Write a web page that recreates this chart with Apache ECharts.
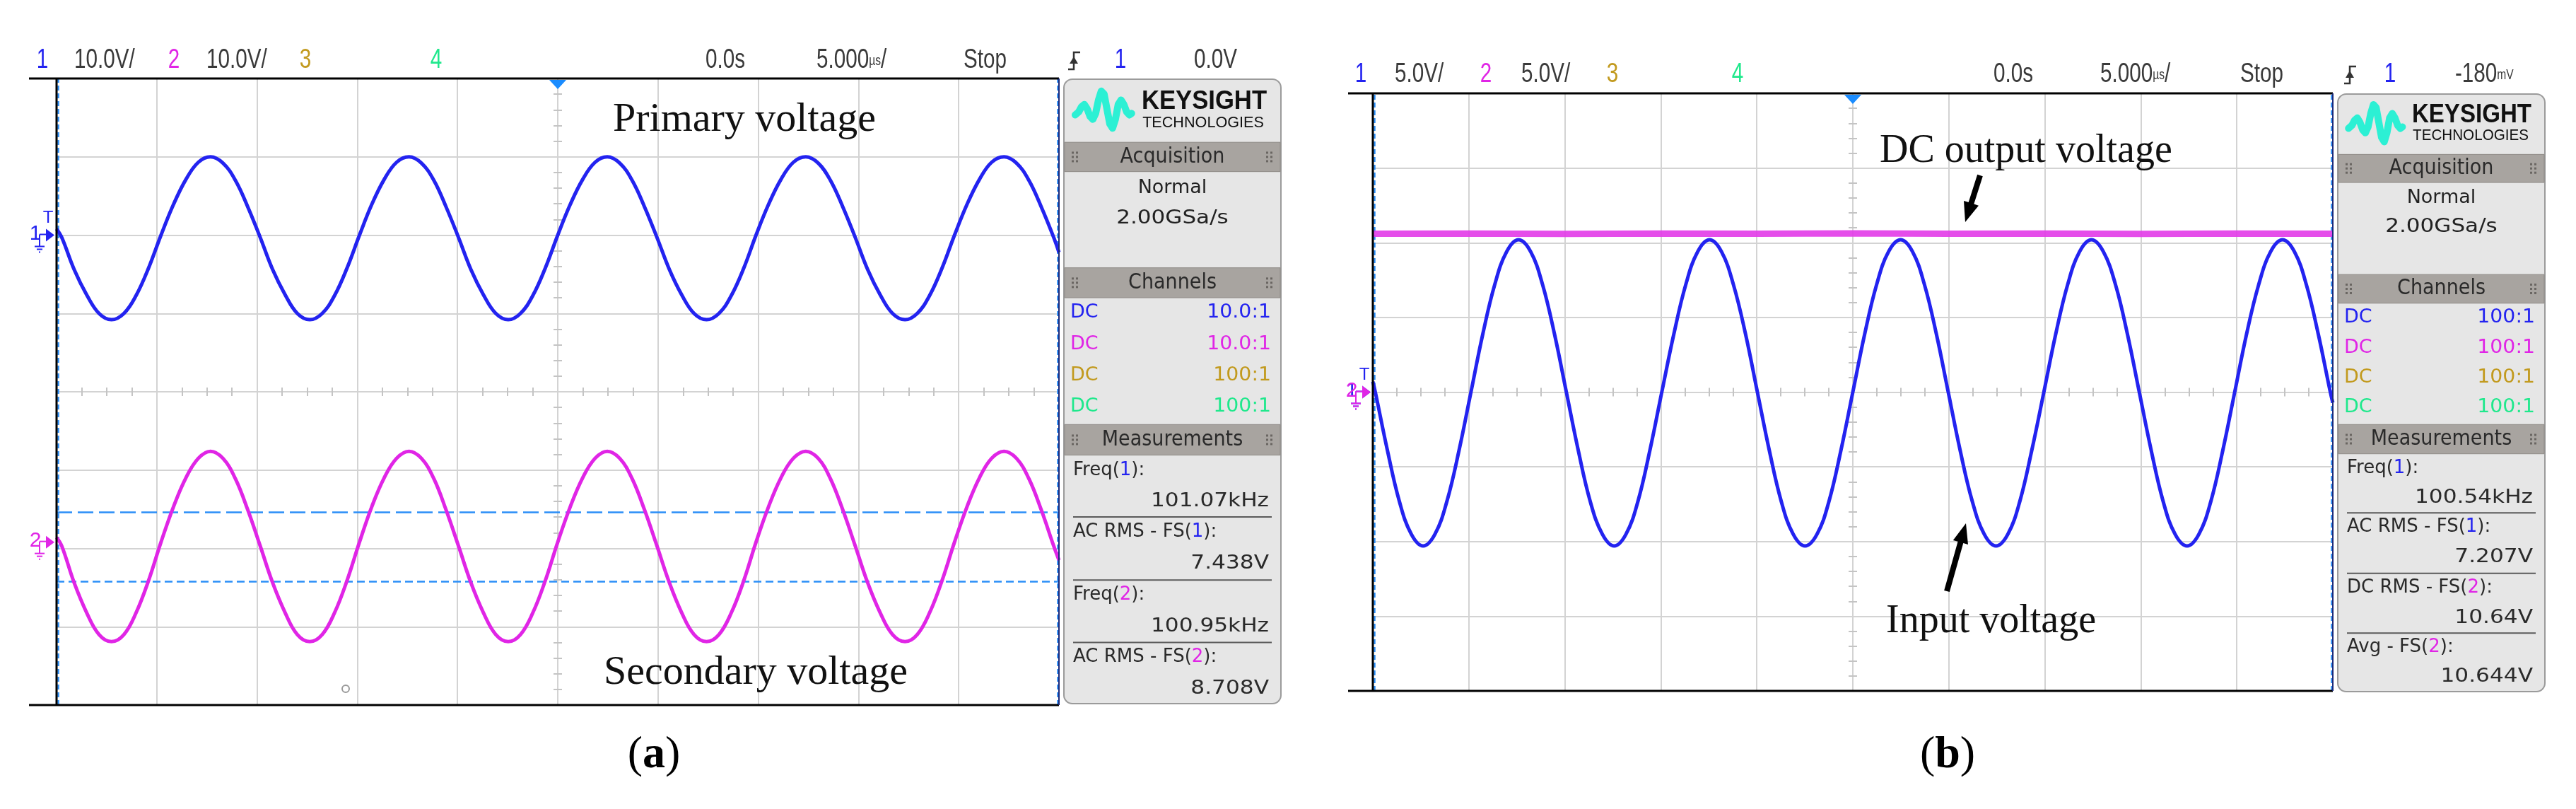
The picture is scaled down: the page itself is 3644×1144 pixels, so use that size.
<!DOCTYPE html>
<html><head><meta charset="utf-8"><title>Oscilloscope waveforms</title>
<script src="https://cdn.jsdelivr.net/npm/echarts@6.0.0/dist/echarts.min.js"></script>
<style>html,body{margin:0;padding:0;background:#fff;}#chart{width:3644px;height:1144px;}</style>
</head><body><div id="chart"></div>
<script>
// ---------------- data ----------------
// (a) time in microseconds, voltages in volts
const timeA = [-25,-24.74,-24.12,-23.50,-22.88,-22.26,-21.64,-21.03,-20.41,-19.79,-19.17,-18.55,-17.93,-17.32,-16.70,-16.08,-15.46,-14.84,-14.22,-13.60,-12.99,-12.37,-11.75,-11.13,-10.51,-9.89,-9.28,-8.66,-8.04,-7.42,-6.80,-6.18,-5.57,-4.95,-4.33,-3.71,-3.09,-2.47,-1.86,-1.24,-0.62,0,0.62,1.24,1.86,2.47,3.09,3.71,4.33,4.95,5.57,6.18,6.80,7.42,8.04,8.66,9.28,9.89,10.51,11.13,11.75,12.37,12.99,13.60,14.22,14.84,15.46,16.08,16.70,17.32,17.93,18.55,19.17,19.79,20.41,21.03,21.64,22.26,22.88,23.50,24.12,24.74,25];
const primaryA = [0.8,
  -0.3,-4.4,-7.6,-10.0,-10.8,-10.0,-7.7,-4.2,
  0.0,3.9,7.1,9.3,10.0,9.2,7.0,3.6,-0.3,-4.4,-7.6,-10.0,-10.8,-10.0,-7.7,-4.2,
  0.0,3.9,7.1,9.3,10.0,9.2,7.0,3.6,-0.3,-4.4,-7.6,-10.0,-10.8,-10.0,-7.7,-4.2,
  0.0,3.9,7.1,9.3,10.0,9.2,7.0,3.6,-0.3,-4.4,-7.6,-10.0,-10.8,-10.0,-7.7,-4.2,
  0.0,3.9,7.1,9.3,10.0,9.2,7.0,3.6,-0.3,-4.4,-7.6,-10.0,-10.8,-10.0,-7.7,-4.2,
  0.0,3.9,7.1,9.3,10.0,9.2,7.0,3.6,-0.3,
  -2.2];
const secondaryA = [0.6,
  -0.5,-5.2,-9.0,-11.8,-12.7,-11.8,-9.0,-4.9,
  0.0,4.5,8.2,10.7,11.6,10.7,8.1,4.1,-0.5,-5.2,-9.0,-11.8,-12.7,-11.8,-9.0,-4.9,
  0.0,4.5,8.2,10.7,11.6,10.7,8.1,4.1,-0.5,-5.2,-9.0,-11.8,-12.7,-11.8,-9.0,-4.9,
  0.0,4.5,8.2,10.7,11.6,10.7,8.1,4.1,-0.5,-5.2,-9.0,-11.8,-12.7,-11.8,-9.0,-4.9,
  0.0,4.5,8.2,10.7,11.6,10.7,8.1,4.1,-0.5,-5.2,-9.0,-11.8,-12.7,-11.8,-9.0,-4.9,
  0.0,4.5,8.2,10.7,11.6,10.7,8.1,4.1,-0.5,
  -2.3];
const voltsPerDivA = [10, 10];
const groundDivA = [2.0, -1.92];
const cursorVoltsA = [3.8, -5.0];
// (b)
const timeB = [-25,-24.87,-24.24,-23.62,-23.00,-22.38,-21.76,-21.14,-20.51,-19.89,-19.27,-18.65,-18.03,-17.41,-16.78,-16.16,-15.54,-14.92,-14.30,-13.68,-13.05,-12.43,-11.81,-11.19,-10.57,-9.95,-9.32,-8.70,-8.08,-7.46,-6.84,-6.22,-5.59,-4.97,-4.35,-3.73,-3.11,-2.49,-1.86,-1.24,-0.62,0,0.62,1.24,1.86,2.49,3.11,3.73,4.35,4.97,5.59,6.22,6.84,7.46,8.08,8.70,9.32,9.95,10.57,11.19,11.81,12.43,13.05,13.68,14.30,14.92,15.54,16.16,16.78,17.41,18.03,18.65,19.27,19.89,20.51,21.14,21.76,22.38,23.00,23.62,24.24,24.87,25];
const inputB = [0.7,
  0.0,-3.9,-7.3,-9.5,-10.3,-9.5,-7.3,-3.9,
  0.0,3.9,7.2,9.4,10.2,9.4,7.2,3.9,0.0,-3.9,-7.3,-9.5,-10.3,-9.5,-7.3,-3.9,
  0.0,3.9,7.2,9.4,10.2,9.4,7.2,3.9,0.0,-3.9,-7.3,-9.5,-10.3,-9.5,-7.3,-3.9,
  0.0,3.9,7.2,9.4,10.2,9.4,7.2,3.9,0.0,-3.9,-7.3,-9.5,-10.3,-9.5,-7.3,-3.9,
  0.0,3.9,7.2,9.4,10.2,9.4,7.2,3.9,0.0,-3.9,-7.3,-9.5,-10.3,-9.5,-7.3,-3.9,
  0.0,3.9,7.2,9.4,10.2,9.4,7.2,3.9,0.0,
  -0.7];
const dcTimeB = [-25,-20,-15,-10,-5,0,5,10,15,20,25];
const dcOutB = [10.60,10.62,10.59,10.61,10.60,10.63,10.60,10.61,10.59,10.62,10.60];
const voltsPerDivB = [5, 5];
const groundDivB = [0, 0];
// texts
const headerA = ['1','10.0V/','2','10.0V/','3','4','0.0s','5.000µs/','Stop','1','0.0V'];
const headerB = ['1','5.0V/','2','5.0V/','3','4','0.0s','5.000µs/','Stop','1','-180mV'];
const acquisition = ['Normal','2.00GSa/s'];
const coupling = ['DC','DC','DC','DC'];
const probeA = ['10.0:1','10.0:1','100:1','100:1'];
const probeB = ['100:1','100:1','100:1','100:1'];
const measLabelsA = ['Freq(1):','AC RMS - FS(1):','Freq(2):','AC RMS - FS(2):'];
const measValuesA = ['101.07kHz','7.438V','100.95kHz','8.708V'];
const measLabelsB = ['Freq(1):','AC RMS - FS(1):','DC RMS - FS(2):','Avg - FS(2):'];
const measValuesB = ['100.54kHz','7.207V','10.64V','10.644V'];

// ---------------- styles ----------------
const BLUE='#2323f0', MAG='#e025e6', GOLD='#c29a1e', GREEN='#1fe88c', CUR='#2a8ef8', GRIDC='#d3d3d3', TXT='#3a3a3a';
const chColors=[BLUE,MAG,GOLD,GREEN];
const GA={left:80,top:111,width:1418,height:886};
const GB={left:1942,top:132,width:1358,height:845};

const chart = echarts.init(document.getElementById('chart'), null, {width:3644,height:1144});

function axes(gi, xBase, yBase){
  const common={gridIndex:gi,type:'value',axisLabel:{show:false},axisTick:{show:false}};
  const mt=(n)=>({show:true,splitNumber:n,length:6,lineStyle:{color:'#c4c4c4',width:2}});
  const xs=[
    Object.assign({},common,{min:-25,max:25,interval:5,axisLine:{show:false},splitLine:{show:true,lineStyle:{color:GRIDC,width:2}}}),
    Object.assign({},common,{min:-25,max:25,interval:5,position:'bottom',axisLine:{show:false,onZero:true,onZeroAxisIndex:yBase},axisTick:{show:false,inside:false},minorTick:mt(4),splitLine:{show:false}}),
    Object.assign({},common,{min:-25,max:25,interval:5,position:'bottom',axisLine:{show:false,onZero:true,onZeroAxisIndex:yBase},axisTick:{show:false,inside:true},minorTick:mt(4),splitLine:{show:false}})
  ];
  const ys=[
    Object.assign({},common,{min:-4,max:4,interval:1,axisLine:{show:false},splitLine:{show:true,lineStyle:{color:GRIDC,width:2}}}),
    Object.assign({},common,{min:-4,max:4,interval:1,position:'left',axisLine:{show:false,onZero:true,onZeroAxisIndex:xBase},axisTick:{show:false,inside:false},minorTick:mt(5),splitLine:{show:false}}),
    Object.assign({},common,{min:-4,max:4,interval:1,position:'left',axisLine:{show:false,onZero:true,onZeroAxisIndex:xBase},axisTick:{show:false,inside:true},minorTick:mt(5),splitLine:{show:false}})
  ];
  return {xs,ys};
}
const aA=axes(0,0,0), aB=axes(1,3,3);

function toDiv(times, volts, vdiv, ground){ return times.map((t,i)=>[t, ground + volts[i]/vdiv]); }
const lineBase={type:'line',showSymbol:false,animation:false,emphasis:{disabled:true},silent:true};
const dashV=(x)=>({xAxis:x,lineStyle:{type:[7,4],color:CUR,width:2.5}});

chart.setOption({
  animation:false,
  backgroundColor:'#ffffff',
  grid:[Object.assign({outerBoundsMode:'none'},GA),Object.assign({outerBoundsMode:'none'},GB)],
  xAxis:aA.xs.concat(aB.xs),
  yAxis:aA.ys.concat(aB.ys),
  series:[
    Object.assign({},lineBase,{name:'Primary voltage',xAxisIndex:0,yAxisIndex:0,smooth:0.4,z:5,
      data:toDiv(timeA,primaryA,voltsPerDivA[0],groundDivA[0]),lineStyle:{color:BLUE,width:5}}),
    Object.assign({},lineBase,{name:'Secondary voltage',xAxisIndex:0,yAxisIndex:0,smooth:0.4,z:5,
      data:toDiv(timeA,secondaryA,voltsPerDivA[1],groundDivA[1]),lineStyle:{color:MAG,width:5},
      markLine:{silent:true,symbol:['none','none'],animation:false,label:{show:false},emphasis:{disabled:true},
        data:[
          {yAxis:groundDivA[1]+cursorVoltsA[0]/voltsPerDivA[1],lineStyle:{type:[22,8],color:CUR,width:2.5}},
          {yAxis:groundDivA[1]+cursorVoltsA[1]/voltsPerDivA[1],lineStyle:{type:[11,6],color:CUR,width:2.5}},
          dashV(-24.93),dashV(24.93)
        ]}}),
    Object.assign({},lineBase,{name:'Input voltage',xAxisIndex:3,yAxisIndex:3,smooth:0.4,z:5,
      data:toDiv(timeB,inputB,voltsPerDivB[0],groundDivB[0]),lineStyle:{color:BLUE,width:5},
      markLine:{silent:true,symbol:['none','none'],animation:false,label:{show:false},emphasis:{disabled:true},
        data:[dashV(-24.93),dashV(24.93)]}}),
    Object.assign({},lineBase,{name:'DC output voltage',xAxisIndex:3,yAxisIndex:3,smooth:false,z:6,
      data:toDiv(dcTimeB,dcOutB,voltsPerDivB[1],groundDivB[1]),lineStyle:{color:'#e23ae8',width:9,opacity:0.9}})
  ]
});

// ---------------- decorations (graphic) ----------------
const G=[];
function T(x,y,text,st,ex){G.push(Object.assign({type:'text',x:x,y:y,silent:true,z:60,
  style:Object.assign({text:text,fill:TXT,fontFamily:'Liberation Sans',fontSize:30,align:'left',verticalAlign:'middle'},st)},ex||{}));}
function L(x1,y1,x2,y2,st,z){G.push({type:'line',silent:true,z:z||55,shape:{x1:x1,y1:y1,x2:x2,y2:y2},style:Object.assign({stroke:'#000',lineWidth:3},st)});}
function P(points,st,type,z){G.push({type:type||'polygon',silent:true,z:z||56,shape:{points:points},style:st});}
function R(x,y,w,h,st,r,z){G.push({type:'rect',silent:true,z:z||50,shape:{x:x,y:y,width:w,height:h,r:r||0},style:st});}

function header(texts,xs,aligns,colors,y){
  texts.forEach((t,i)=>{
    const tt=t.replace('µs','{u|µs}').replace('mV','{u|mV}');
    T(xs[i],y,tt,{align:aligns[i]==='c'?'center':'left',fill:colors[i],fontSize:38,
      rich:{u:{fontSize:20,fontFamily:'Liberation Sans',fill:colors[i],verticalAlign:'middle'}}},{scaleX:0.78});
  });
}
function trigIcon(x,y){
  P([[x-10,y+12],[x-2,y+12],[x-2,y-12],[x+7,y-12]],{stroke:'#333',lineWidth:2.5,fill:null},'polyline');
  P([[x-8,y+4],[x+4,y+4],[x-2,y-6]],{fill:'#333'});
}
function groundMarker(left,y,color,label,showT){
  T(left-30,y-2,label,{fill:color,fontSize:30,align:'center'});
  P([[left-15,y-9],[left-3,y],[left-15,y+9]],{fill:color});
  L(left-24,y-1,left-15,y-1,{stroke:color,lineWidth:2});
  L(left-24,y-1,left-24,y+16,{stroke:color,lineWidth:2});
  L(left-31,y+16,left-17,y+16,{stroke:color,lineWidth:2});
  L(left-28,y+20,left-20,y+20,{stroke:color,lineWidth:2});
  L(left-25,y+24,left-23,y+24,{stroke:color,lineWidth:2});
  if(showT) T(left-12,y-24,'T',{fill:BLUE,fontSize:24,align:'center'});
}
function frame(g,extLeft){
  const r=g.left+g.width,b=g.top+g.height;
  L(extLeft,g.top,r,g.top,{lineWidth:3});
  L(extLeft,b,r,b,{lineWidth:3});
  L(g.left,g.top,g.left,b,{lineWidth:3});
  L(r,g.top,r,b,{stroke:'#1b2a7a',lineWidth:2});
}
const logoShape=[[0,6],[5,2],[9,-5],[13,-8],[17,-2],[21,8],[25,12],[29,4],[33,-14],[37,-26],[41,-22],[45,-2],[49,18],[53,24],[57,12],[61,-8],[65,-14],[69,-8],[73,2],[77,6],[80,4]];
function sidePanel(px,py,w,h,probes,mLabels,mValues){
  const fy=f=>py+f*h;
  R(px,py,w,h,{fill:'#e6e6e6',stroke:'#9b9b9b',lineWidth:2},12,50);
  const lx=px+0.052*w,lw=0.26*w,ly=fy(0.05);
  P(logoShape.map(p=>[lx+p[0]*lw/80,ly+p[1]*1.05]),{stroke:'#2cf0d4',lineWidth:10,fill:null,lineJoin:'round',lineCap:'round'},'polyline',52);
  T(px+0.358*w,fy(0.036),'KEYSIGHT',{fontWeight:'bold',fontSize:36,fill:'#111'},{scaleX:0.577*w/184});
  T(px+0.362*w,fy(0.070),'TECHNOLOGIES',{fontSize:22,fill:'#111'},{scaleX:0.56*w/175});
  [['Acquisition',0.101,0.148],['Channels',0.302,0.350],['Measurements',0.553,0.602]].forEach(hd=>{
    R(px+1,fy(hd[1]),w-2,fy(hd[2])-fy(hd[1]),{fill:'#a8a4a0',stroke:'#8e8a86',lineWidth:1},0,51);
    const cy=(fy(hd[1])+fy(hd[2]))/2;
    T(px+w/2,cy,hd[0],{fontFamily:'DejaVu Sans',fontSize:27,fill:'#2a2a2a',align:'center'},{scaleY:1.12});
    [px+11,px+w-21].forEach(dx=>{for(let c=0;c<2;c++)for(let r=-1;r<=1;r++)R(dx+c*6,cy+r*6-1.5,3,3,{fill:'#6a6662'},0,53);});
  });
  T(px+w/2,fy(0.174),acquisition[0],{fontFamily:'DejaVu Sans',fontSize:27,fill:'#222',align:'center'});
  T(px+w/2,fy(0.223),acquisition[1],{fontFamily:'DejaVu Sans',fontSize:27,fill:'#222',align:'center'},{scaleX:1.15});
  [0.374,0.425,0.475,0.524].forEach((f,i)=>{
    T(px+9,fy(f),coupling[i],{fontFamily:'DejaVu Sans',fontSize:27,fill:chColors[i]});
    T(px+w-14,fy(f),probes[i],{fontFamily:'DejaVu Sans',fontSize:27,fill:chColors[i],align:'right'},{scaleX:1.05});
  });
  const rows=[[0.626,0.676],[0.725,0.776],[0.826,0.877],[0.926,0.976]];
  rows.forEach((rw,i)=>{
    const lab=mLabels[i].replace(/\((\d)\)/,(m,d)=>'({c'+d+'|'+d+'})');
    T(px+13,fy(rw[0]),lab,{fontFamily:'DejaVu Sans',fontSize:26,fill:'#2a2a2a',
      rich:{c1:{fill:BLUE,fontFamily:'DejaVu Sans',fontSize:26},c2:{fill:MAG,fontFamily:'DejaVu Sans',fontSize:26}}});
    T(px+w-17,fy(rw[1]),mValues[i],{fontFamily:'DejaVu Sans',fontSize:26,fill:'#2a2a2a',align:'right'},{scaleX:1.2});
  });
  [0.701,0.802,0.902].forEach(f=>L(px+13,fy(f),px+w-13,fy(f),{stroke:'#5a5a5a',lineWidth:2},54));
}
function arrow(x1,y1,x2,y2){
  const dx=x2-x1,dy=y2-y1,len=Math.hypot(dx,dy),ux=dx/len,uy=dy/len,nx=-uy,ny=ux;
  const hl=28,hw=11,sw=4;
  const bx=x2-ux*hl,by=y2-uy*hl;
  P([[x1+nx*sw,y1+ny*sw],[bx+nx*sw,by+ny*sw],[bx+nx*hw,by+ny*hw],[x2,y2],[bx-nx*hw,by-ny*hw],[bx-nx*sw,by-ny*sw],[x1-nx*sw,y1-ny*sw]],{fill:'#000'},'polygon',70);
}

// headers
const alignsH=['c','l','c','l','c','c','l','l','l','c','l'];
const colorsH=[BLUE,TXT,MAG,TXT,GOLD,GREEN,TXT,TXT,TXT,BLUE,TXT];
header(headerA,[60,105,246,292,432,617,998,1155,1363,1585,1689],alignsH,colorsH,86);
trigIcon(1521,86);
header(headerB,[1925,1973,2102,2152,2281,2458,2820,2971,3169,3381,3473],alignsH,colorsH,106);
trigIcon(3326,106);

// frames
frame(GA,41); frame(GB,1907);

// ground & trigger markers placed through the axes' own scales
const pA=(t,y)=>chart.convertToPixel({xAxisIndex:0,yAxisIndex:0},[t,y]);
const pB=(t,y)=>chart.convertToPixel({xAxisIndex:3,yAxisIndex:3},[t,y]);
groundMarker(GA.left,pA(0,groundDivA[0])[1],BLUE,'1',true);
groundMarker(GA.left,pA(0,groundDivA[1])[1],MAG,'2',false);
groundMarker(GB.left,pB(0,groundDivB[0])[1],BLUE,'1',true);
groundMarker(GB.left,pB(0,groundDivB[1])[1],MAG,'2',false);
[pA(0,4),pB(0,4)].forEach(p=>P([[p[0]-12,p[1]+2],[p[0]+12,p[1]+2],[p[0],p[1]+15]],{fill:'#1a8cff'},'polygon',65));

// annotations
T(867,170,'Primary voltage',{fontFamily:'Liberation Serif',fontSize:58,fill:'#111'});
T(854,952,'Secondary voltage',{fontFamily:'Liberation Serif',fontSize:58,fill:'#111'});
T(2659,214,'DC output voltage',{fontFamily:'Liberation Serif',fontSize:56,fill:'#111'});
T(2668,879,'Input voltage',{fontFamily:'Liberation Serif',fontSize:56,fill:'#111'});
arrow(2801,248,2780,314);
arrow(2754,836,2781,740);
G.push({type:'circle',silent:true,z:55,shape:{cx:489,cy:974,r:5},style:{fill:null,stroke:'#9a9a9a',lineWidth:2}});

// side panels
sidePanel(1505,112,307,883,probeA,measLabelsA,measValuesA);
sidePanel(3307,133,293,845,probeB,measLabelsB,measValuesB);

// captions
T(925,1068,'({b|a})',{fontFamily:'Liberation Serif',fontSize:64,fill:'#000',align:'center',rich:{b:{fontFamily:'Liberation Serif',fontSize:64,fontWeight:'bold',fill:'#000'}}});
T(2755,1068,'({b|b})',{fontFamily:'Liberation Serif',fontSize:64,fill:'#000',align:'center',rich:{b:{fontFamily:'Liberation Serif',fontSize:64,fontWeight:'bold',fill:'#000'}}});

chart.setOption({graphic:{elements:G}});
</script>
</body></html>
